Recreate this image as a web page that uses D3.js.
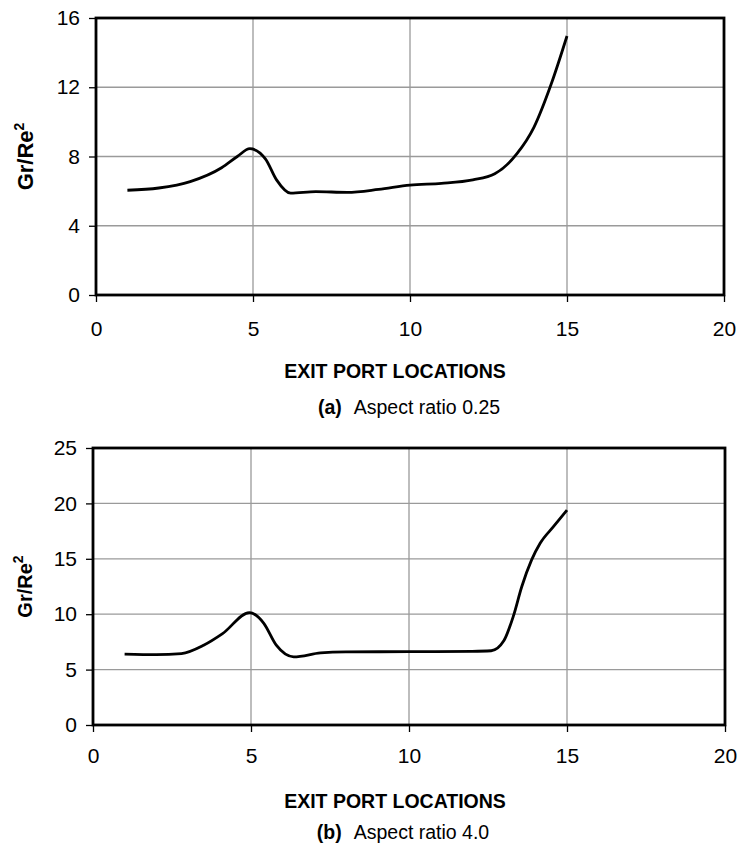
<!DOCTYPE html>
<html>
<head>
<meta charset="utf-8">
<script src="https://cdn.jsdelivr.net/npm/d3@7"></script>
<style>
  body { margin: 0; background: #fff; }
  svg { display: block; font-family: "Liberation Sans", Arial, sans-serif; }
</style>
</head>
<body>
<div id="chart"></div>
<script>
// values
const xTop = [1, 2, 3, 4, 4.5, 4.9, 5.4, 5.75, 6.2, 7, 8, 9, 10, 11, 12, 12.7, 13.4, 13.95, 14.5, 15];
const yTop = [6.05, 6.18, 6.55, 7.35, 8.0, 8.45, 7.85, 6.65, 5.88, 5.97, 5.93, 6.1, 6.35, 6.45, 6.65, 7.0, 8.15, 9.7, 12.2, 14.96];

const xBottom = [1, 2, 2.8, 3.5, 4.1, 4.95, 5.4, 5.8, 6.35, 7.2, 8, 10, 12, 12.6, 13, 13.3, 13.57, 13.88, 14.15, 14.57, 15];
const yBottom = [6.4, 6.35, 6.45, 7.2, 8.25, 10.15, 9.2, 7.2, 6.15, 6.5, 6.6, 6.62, 6.65, 6.7, 7.6, 9.8, 12.5, 14.9, 16.4, 17.9, 19.4];

const xTicks = [0, 5, 10, 15, 20];
const yTicksTop = [0, 4, 8, 12, 16];
const yTicksBottom = [0, 5, 10, 15, 20, 25];

const xTitle = "EXIT PORT LOCATIONS";
const captionTop = ["(a)", "Aspect ratio 0.25"];
const captionBottom = ["(b)", "Aspect ratio 4.0"];

const width = 740;
const height = 850;

const svg = d3.select("#chart")
  .append("svg")
  .attr("width", width)
  .attr("height", height);

function drawPanel(xs, ys, yTicks, caption, box) {
  const x = d3.scaleLinear().domain([0, 20]).range([box.left, box.right]);
  const y = d3.scaleLinear().domain([0, d3.max(yTicks)]).range([box.bottom, box.top]);

  const g = svg.append("g");

  // grid lines
  g.selectAll(".vgrid")
    .data(xTicks.filter(d => d > 0 && d < 20))
    .enter()
    .append("line")
    .attr("x1", d => x(d)).attr("x2", d => x(d))
    .attr("y1", box.top).attr("y2", box.bottom)
    .attr("stroke", "#9a9a9a")
    .attr("stroke-width", 1.3);

  g.selectAll(".hgrid")
    .data(yTicks.filter(d => d > 0 && d < d3.max(yTicks)))
    .enter()
    .append("line")
    .attr("x1", box.left).attr("x2", box.right)
    .attr("y1", d => y(d)).attr("y2", d => y(d))
    .attr("stroke", "#9a9a9a")
    .attr("stroke-width", 1.3);

  // axes
  const xAxis = g.append("g")
    .attr("transform", `translate(0,${box.bottom})`)
    .call(d3.axisBottom(x).tickValues(xTicks).tickSize(7).tickPadding(box.xPad).tickFormat(d3.format("d")));

  const yAxis = g.append("g")
    .attr("transform", `translate(${box.left},0)`)
    .call(d3.axisLeft(y).tickValues(yTicks).tickSize(7).tickPadding(9).tickFormat(d3.format("d")));

  [xAxis, yAxis].forEach(a => {
    a.select(".domain").remove();
    a.selectAll(".tick line").attr("stroke", "#000").attr("stroke-width", 1.3);
    a.selectAll(".tick text")
      .attr("fill", "#000")
      .style("font-size", "21px");
  });

  // frame
  g.append("rect")
    .attr("x", box.left)
    .attr("y", box.top)
    .attr("width", box.right - box.left)
    .attr("height", box.bottom - box.top)
    .attr("fill", "none")
    .attr("stroke", "#000")
    .attr("stroke-width", 2.8);

  // the curve
  const line = d3.line()
    .x(d => x(d[0]))
    .y(d => y(d[1]))
    .curve(d3.curveMonotoneX);

  g.append("path")
    .datum(xs.map((v, i) => [v, ys[i]]))
    .attr("d", line)
    .attr("fill", "none")
    .attr("stroke", "#000")
    .attr("stroke-width", 2.8)
    .attr("stroke-linejoin", "round");

  // y title
  const yt = g.append("text")
    .attr("transform", `translate(${box.yTitleX},${(box.top + box.bottom) / 2}) rotate(-90)`)
    .attr("text-anchor", "middle")
    .attr("font-weight", "bold")
    .style("font-size", box.yTitleSize + "px");
  yt.append("tspan").text("Gr/Re");
  yt.append("tspan").attr("dy", -9).style("font-size", "14px").text("2");

  // x title
  g.append("text")
    .attr("x", box.titleX)
    .attr("y", box.titleY)
    .attr("text-anchor", "middle")
    .attr("font-weight", "bold")
    .style("font-size", "19.5px")
    .text(xTitle);

  // caption
  const cap = g.append("text")
    .attr("x", box.capX)
    .attr("y", box.capY)
    .attr("text-anchor", "middle")
    .style("font-size", "19.5px");
  cap.append("tspan").attr("font-weight", "bold").text(caption[0]);
  cap.append("tspan").attr("dx", 12).text(caption[1]);
}

drawPanel(xTop, yTop, yTicksTop, captionTop,
  {left: 96, right: 724, top: 18, bottom: 295, xPad: 19, yTitleX: 33, yTitleSize: 22,
   titleX: 395, titleY: 378, capX: 409, capY: 414});

drawPanel(xBottom, yBottom, yTicksBottom, captionBottom,
  {left: 93, right: 725, top: 448, bottom: 725, xPad: 16, yTitleX: 32, yTitleSize: 20,
   titleX: 395, titleY: 808, capX: 403, capY: 839});
</script>
</body>
</html>
